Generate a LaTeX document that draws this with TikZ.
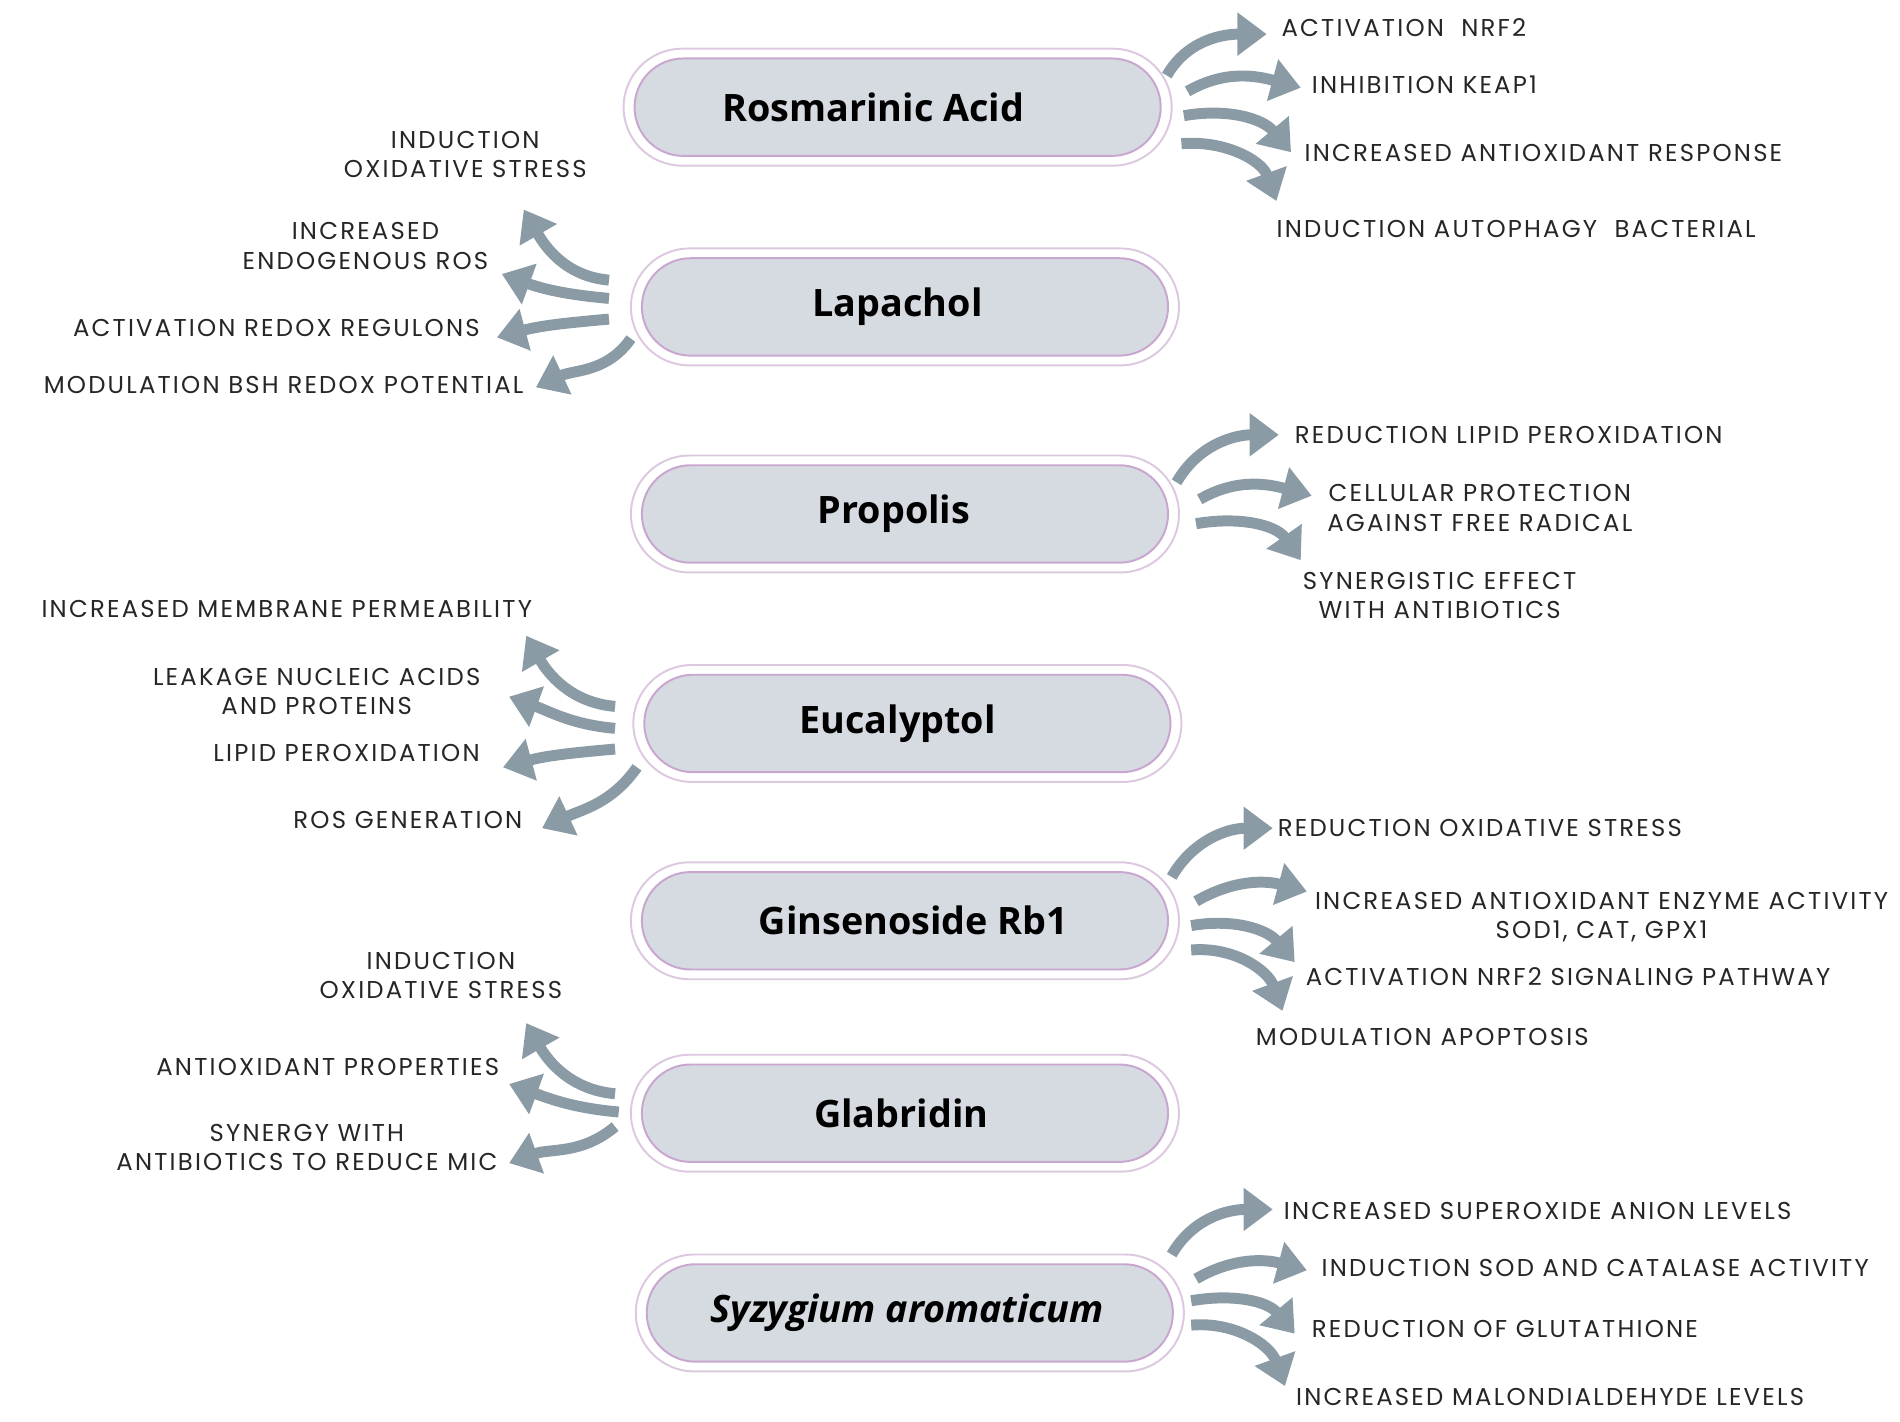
\documentclass[tikz,border=0pt]{standalone}
\usepackage{fontspec}
\setmainfont{Poppins}[LetterSpace=9]
\newfontfamily\pillfont{Open Sans}
\usetikzlibrary{arrows.meta}
\definecolor{arr}{HTML}{8A9BA6}
\definecolor{pillfill}{HTML}{D5DBE0}
\definecolor{pillin}{HTML}{C9A6CF}
\definecolor{pillout}{HTML}{DCC8DF}
\tikzset{
 outerpill/.style={draw=pillout,line width=1.6pt,fill=white,rounded corners=48pt,minimum width=450pt,minimum height=96pt},
 innerpill/.style={draw=pillin,line width=1.6pt,fill=pillfill,rounded corners=40pt,minimum width=432pt,minimum height=80pt},
 pilltext/.style={font=\pillfont\bfseries\fontsize{31}{36}\selectfont},
 fx/.style={line width=9pt,draw=arr,-{Triangle[length=24pt,width=34pt]}},
 lab/.style={font=\fontsize{20}{24}\selectfont,align=center,inner sep=0pt,text=black!85},
}
\newcommand{\mypill}[5]{%
 \node[outerpill] (#1o) at (#2,#3) {};
 \node[innerpill] (#1) at (#2,#3) {};
 \node[pilltext] (#1t) at ([xshift=#4pt]#1.center) {#5};}
\begin{document}
\begin{tikzpicture}[x=1pt,y=-1pt]
\useasboundingbox (0,0) rectangle (1560,1167);
\mypill{ra}{737}{88}{-20}{Rosmarinic Acid}
\mypill{la}{743}{252}{-6}{Lapachol}
\mypill{pr}{743}{422}{-9}{Propolis}
\mypill{eu}{745}{594}{-8}{Eucalyptol}
\mypill{gi}{743}{756}{7}{Ginsenoside Rb1}
\mypill{gl}{743}{914}{-3}{Glabridin}
\mypill{sy}{747}{1078}{-2}{\itshape Syzygium aromaticum}
% Rosmarinic
\draw[fx] (958,62) to[out=60,in=180] (1040,28);
\draw[fx] (975,75) to[out=30,in=165] (1068,72);
\draw[fx] (972,95) to[out=10,in=130] (1060,125);
\draw[fx] (970,118) to[out=5,in=110] (1048,165);
\node[lab,anchor=west] (t1) at (1052,23) {ACTIVATION~~NRF2};
\node[lab,anchor=west] (t2) at (1077,70) {INHIBITION KEAP1};
\node[lab,anchor=west] (t3) at (1071,126) {INCREASED ANTIOXIDANT RESPONSE};
\node[lab,anchor=west] (t4) at (1048,188) {INDUCTION AUTOPHAGY~~BACTERIAL};
% Lapachol
\draw[fx] (500,230) to[out=175,in=-60] (430,172);
\draw[fx] (500,245) to[out=175,in=-20] (412,225);
\draw[fx] (500,262) to[out=185,in=15] (408,277);
\draw[fx] (518,278) to[out=235,in=25] (440,318);
\node[lab] (l1) at (382,127) {INDUCTION\\OXIDATIVE STRESS};
\node[lab] (l2) at (300,202) {INCREASED\\ENDOGENOUS ROS};
\node[lab,anchor=east] (l3) at (394,269) {ACTIVATION REDOX REGULONS};
\node[lab,anchor=east] (l4) at (430,316) {MODULATION BSH REDOX POTENTIAL};
% Propolis
\draw[fx] (966,396) to[out=60,in=180] (1050,357);
\draw[fx] (985,410) to[out=30,in=165] (1077,407);
\draw[fx] (982,430) to[out=10,in=125] (1068,460);
\node[lab,anchor=west] (p1) at (1063,357) {REDUCTION LIPID PEROXIDATION};
\node[lab] (p2) at (1215,417) {CELLULAR PROTECTION\\AGAINST FREE RADICAL};
\node[lab] (p3) at (1182,489) {SYNERGISTIC EFFECT\\WITH ANTIBIOTICS};
% Eucalyptol
\draw[fx] (505,580) to[out=175,in=-60] (432,522);
\draw[fx] (505,598) to[out=175,in=-20] (418,572);
\draw[fx] (505,615) to[out=185,in=15] (413,630);
\draw[fx] (523,630) to[out=235,in=25] (445,680);
\node[lab,anchor=east] (e1) at (437,500) {INCREASED MEMBRANE PERMEABILITY};
\node[lab] (e2) at (260,568) {LEAKAGE NUCLEIC ACIDS\\AND PROTEINS};
\node[lab,anchor=east] (e3) at (394,618) {LIPID PEROXIDATION};
\node[lab,anchor=east] (e4) at (429,673) {ROS GENERATION};
% Ginsenoside
\draw[fx] (962,720) to[out=60,in=180] (1045,680);
\draw[fx] (982,740) to[out=30,in=165] (1073,732);
\draw[fx] (978,760) to[out=10,in=130] (1063,790);
\draw[fx] (978,780) to[out=5,in=110] (1053,830);
\node[lab,anchor=west] (g1) at (1049,680) {REDUCTION OXIDATIVE STRESS};
\node[lab] (g2) at (1315,753) {INCREASED ANTIOXIDANT ENZYME ACTIVITY\\SOD1, CAT, GPX1};
\node[lab,anchor=west] (g3) at (1072,802) {ACTIVATION NRF2 SIGNALING PATHWAY};
\node[lab,anchor=west] (g4) at (1031,851) {MODULATION APOPTOSIS};
% Glabridin
\draw[fx] (505,898) to[out=175,in=-60] (432,840);
\draw[fx] (508,913) to[out=175,in=-20] (418,890);
\draw[fx] (505,925) to[out=220,in=20] (418,955);
\node[lab] (b1) at (362,801) {INDUCTION\\OXIDATIVE STRESS};
\node[lab,anchor=east] (b2) at (410,876) {ANTIOXIDANT PROPERTIES};
\node[lab] (b3) at (252,942) {SYNERGY WITH\\ANTIBIOTICS TO REDUCE MIC};
% Syzygium
\draw[fx] (962,1030) to[out=60,in=180] (1045,993);
\draw[fx] (982,1050) to[out=30,in=165] (1073,1043);
\draw[fx] (978,1068) to[out=10,in=130] (1063,1095);
\draw[fx] (978,1088) to[out=5,in=110] (1055,1138);
\node[lab,anchor=west] (s1) at (1054,994) {INCREASED SUPEROXIDE ANION LEVELS};
\node[lab,anchor=west] (s2) at (1085,1041) {INDUCTION SOD AND CATALASE ACTIVITY};
\node[lab,anchor=west] (s3) at (1077,1091) {REDUCTION OF GLUTATHIONE};
\node[lab,anchor=west] (s4) at (1064,1147) {INCREASED MALONDIALDEHYDE LEVELS};
\end{tikzpicture}
\end{document}
